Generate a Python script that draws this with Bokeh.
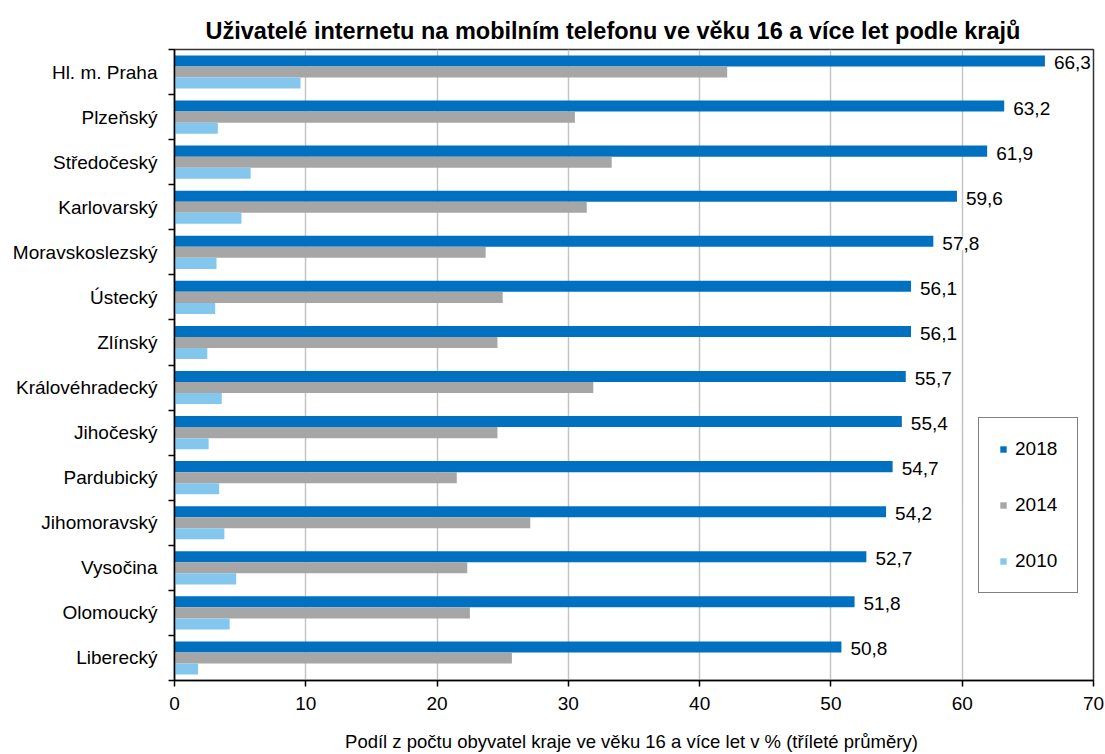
import numpy as np
from bokeh.plotting import figure
from bokeh.models import (Range1d, FixedTicker, ColumnDataSource, LabelSet,
                          Legend, LegendItem)
from bokeh.core.properties import value
from bokeh.embed import file_html
from bokeh.resources import INLINE

# ---------------- data ----------------
regions = ["Hl. m. Praha", "Plzeňský", "Středočeský", "Karlovarský",
           "Moravskoslezský", "Ústecký", "Zlínský", "Královéhradecký",
           "Jihočeský", "Pardubický", "Jihomoravský", "Vysočina",
           "Olomoucký", "Liberecký"]
v2018 = [66.3, 63.2, 61.9, 59.6, 57.8, 56.1, 56.1, 55.7, 55.4, 54.7, 54.2, 52.7, 51.8, 50.8]
v2014 = [42.1, 30.5, 33.3, 31.4, 23.7, 25.0, 24.6, 31.9, 24.6, 21.5, 27.1, 22.3, 22.5, 25.7]
v2010 = [9.6, 3.3, 5.8, 5.1, 3.2, 3.1, 2.5, 3.6, 2.6, 3.4, 3.8, 4.7, 4.2, 1.8]
years = ["2018", "2014", "2010"]
colors = ["#0070C0", "#A6A6A6", "#83C7EE"]
x_ticks = [0, 10, 20, 30, 40, 50, 60, 70]

title_text = "Uživatelé internetu na mobilním telefonu ve věku 16 a více let podle krajů"
x_title = "Podíl  z počtu obyvatel kraje ve věku 16 a více let v % (tříleté průměry)"

FONT = "Liberation Sans"
n = len(regions)
centers = np.arange(n) + 0.5
bar_h = 0.245
offsets = [-bar_h, 0.0, bar_h]
series = [v2018, v2014, v2010]

p = figure(width=1105, height=754, output_backend="svg", toolbar_location=None,
           x_range=Range1d(0, 70), y_range=Range1d(n, 0),
           min_border_left=174, min_border_right=12, min_border_top=49,
           min_border_bottom=74)

renderers = []
for vals, off, col in zip(series, offsets, colors):
    src = ColumnDataSource(dict(y=centers + off, v=vals))
    r = p.hbar(y="y", left=0, right="v", height=bar_h, source=src,
               fill_color=col, line_color=None)
    renderers.append(r)

# value labels for 2018
lab_src = ColumnDataSource(dict(x=v2018, y=centers + offsets[0],
                                t=[f"{v:.1f}".replace(".", ",") for v in v2018]))
labels = LabelSet(x="x", y="y", text="t", source=lab_src, x_offset=9, y_offset=-2,
                  text_baseline="middle", text_align="left",
                  text_font=value(FONT), text_font_size=value("19px"),
                  text_color="#000000",
                  background_fill_color="white")
p.add_layout(labels)

# title
p.title.text = title_text
p.title.text_font = FONT
p.title.text_font_size = "23.5px"
p.title.text_font_style = "bold"
p.title.text_color = "#000000"
p.title.align = "left"
p.title.offset = 31
p.title.standoff = 11

# x axis
p.xaxis.ticker = FixedTicker(ticks=x_ticks)
p.xaxis.axis_label = x_title
p.xaxis.axis_label_text_font = FONT
p.xaxis.axis_label_text_font_size = "18.5px"
p.xaxis.axis_label_text_font_style = "normal"
p.xaxis.axis_label_text_color = "#000000"
p.xaxis.axis_label_standoff = 18
p.xaxis.major_label_text_font = FONT
p.xaxis.major_label_text_font_size = "19px"
p.xaxis.major_label_text_color = "#000000"
p.xaxis.major_label_standoff = 10
p.xaxis.major_tick_out = 6
p.xaxis.major_tick_in = 0
p.xaxis.minor_tick_line_color = None
p.xaxis.axis_line_color = "#000000"
p.xaxis.axis_line_width = 1.5
p.xaxis.major_tick_line_color = "#000000"
p.xaxis.major_tick_line_width = 1.5

# y axis: labels at centres, tick marks at category boundaries
p.yaxis.ticker = FixedTicker(ticks=list(centers), minor_ticks=list(np.arange(n + 1)))
p.yaxis.major_label_overrides = {float(c): name for c, name in zip(centers, regions)}
p.yaxis.major_label_text_font = FONT
p.yaxis.major_label_text_font_size = "19px"
p.yaxis.major_label_text_color = "#000000"
p.yaxis.major_label_standoff = 11
p.yaxis.major_tick_line_color = None
p.yaxis.major_tick_out = 0
p.yaxis.major_tick_in = 0
p.yaxis.minor_tick_out = 6
p.yaxis.minor_tick_in = 0
p.yaxis.minor_tick_line_color = "#000000"
p.yaxis.minor_tick_line_width = 1.5
p.yaxis.axis_line_color = "#000000"
p.yaxis.axis_line_width = 1.5

# grid
p.xgrid.ticker = FixedTicker(ticks=x_ticks)
p.xgrid.grid_line_color = "#C4C4C4"
p.xgrid.grid_line_width = 1.5
p.ygrid.visible = False

p.outline_line_color = "#333333"
p.outline_line_width = 1.5
p.background_fill_color = "white"
p.border_fill_color = "white"

legend = Legend(items=[LegendItem(label=y, renderers=[r]) for y, r in zip(years, renderers)],
                location=(804, 87), orientation="vertical",
                border_line_color="#000000", border_line_width=1.5,
                background_fill_color="white", background_fill_alpha=1.0,
                padding=20, spacing=34, glyph_width=8, glyph_height=8,
                label_standoff=8, label_height=20,
                label_text_font=FONT, label_text_font_size="19px",
                label_text_color="#000000", margin=0)
p.add_layout(legend, "center")

open("out.html", "w").write(file_html(p, INLINE))
